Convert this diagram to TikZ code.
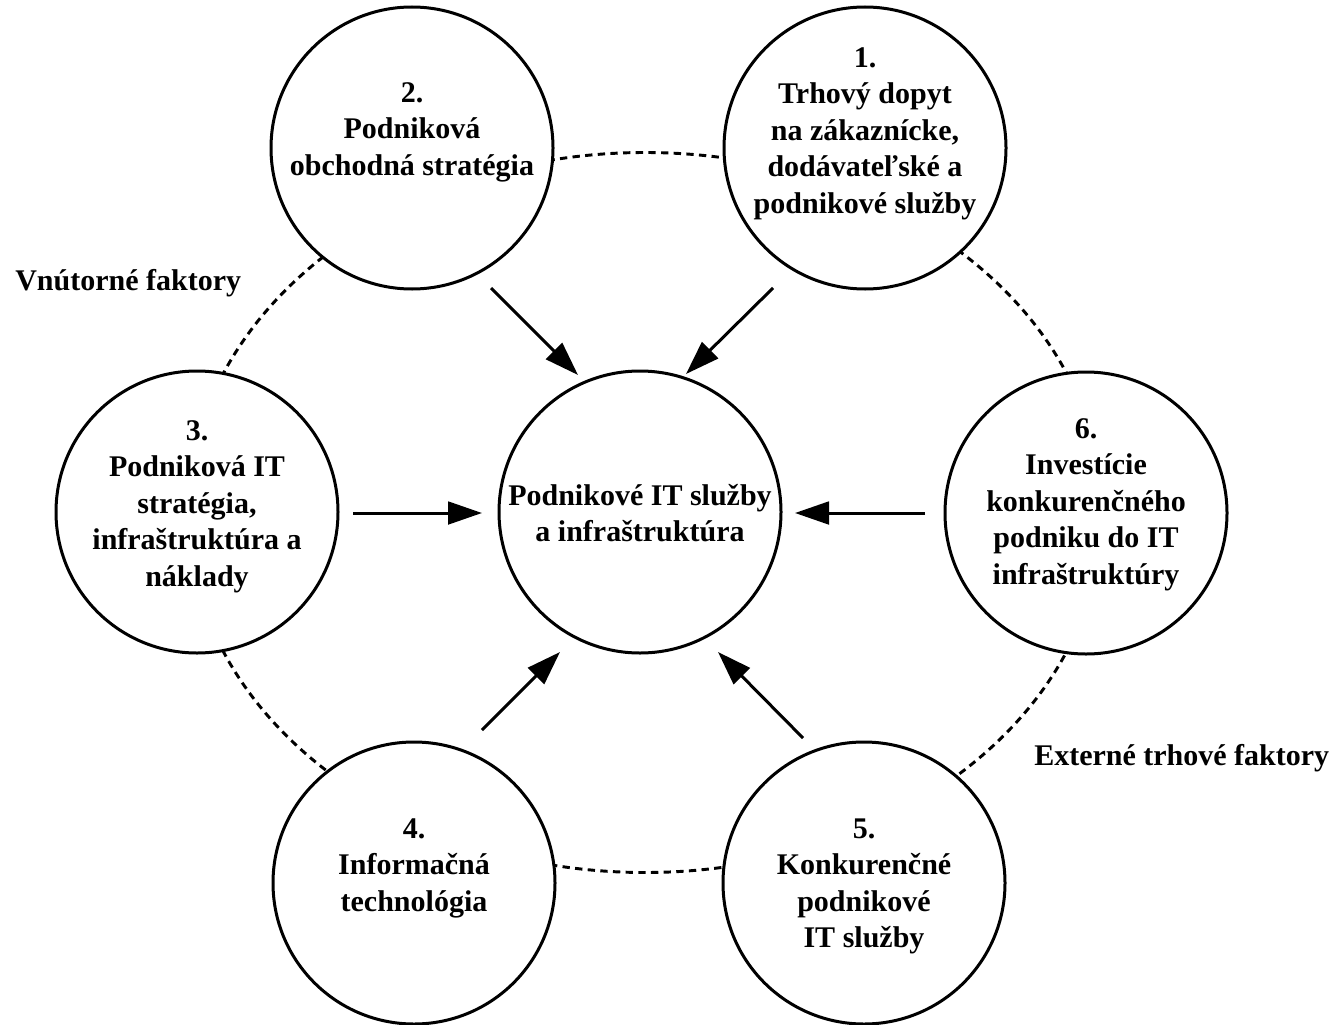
\documentclass[tikz,border=0pt]{standalone}
\usepackage{fontspec}
\setmainfont{Liberation Serif}
\usetikzlibrary{arrows.meta}
\begin{document}
\begin{tikzpicture}[x=0.75pt,y=-0.75pt,
  bubble/.style={circle, draw, line width=2.25pt, fill=white, minimum size=211.5pt, inner sep=0pt},
  txt/.style={font=\bfseries\fontsize{22.5pt}{27.4pt}\selectfont, align=center, inner sep=0pt, anchor=north},
  side/.style={font=\bfseries\fontsize{22.5pt}{27.4pt}\selectfont, inner sep=0pt, anchor=base west},
  ring/.style={line width=2.2pt, dash pattern=on 5.5pt off 4pt},
  flow/.style={line width=2.25pt, -{Triangle[length=25.5pt, width=17pt]}}
]
\useasboundingbox (0,0) rectangle (1334,1024);
% dashed ring behind the outer circles
\coordinate (ringc) at (645,512.5);
\draw[ring] (ringc) ellipse [x radius=342.75pt, y radius=270pt];
% circles
\node[bubble] (c0) at (640,512) {};
\node[bubble] (c1) at (865,148) {};
\node[bubble] (c2) at (412,148) {};
\node[bubble] (c3) at (197,512) {};
\node[bubble] (c4) at (414,883) {};
\node[bubble] (c5) at (864,883) {};
\node[bubble] (c6) at (1086,513) {};
% texts
\node[txt] (t0) at (640,479.4) {\strut Podnikové IT služby\\a infraštruktúra};
\node[txt] (t1) at (865,41.4) {\strut 1.\\Trhový dopyt\\na zákaznícke,\\dodávateľské a\\podnikové služby};
\node[txt] (t2) at (412,76.4) {\strut 2.\\Podniková\\obchodná stratégia};
\node[txt] (t3) at (197,414.4) {\strut 3.\\Podniková IT\\stratégia,\\infraštruktúra a\\náklady};
\node[txt] (t4) at (414,812.4) {\strut 4.\\Informačná\\technológia};
\node[txt] (t5) at (864,812.4) {\strut 5.\\Konkurenčné\\podnikové\\IT služby};
\node[txt] (t6) at (1086,412.4) {\strut 6.\\Investície\\konkurenčného\\podniku do IT\\infraštruktúry};
% side labels
\node[side] (lin) at (15,290) {Vnútorné faktory};
\node[side] (lex) at (1034,765) {Externé trhové faktory};
% arrows
\coordinate (a2s) at (491,288); \coordinate (a2e) at (578,375);
\coordinate (a1s) at (773,288); \coordinate (a1e) at (686,374);
\coordinate (a3s) at (353,513); \coordinate (a3e) at (482,513);
\coordinate (a6s) at (925,513); \coordinate (a6e) at (795,513);
\coordinate (a4s) at (482,730); \coordinate (a4e) at (560,652);
\coordinate (a5s) at (803,738); \coordinate (a5e) at (718,652);
\draw[flow] (a2s) -- (a2e);
\draw[flow] (a1s) -- (a1e);
\draw[flow] (a3s) -- (a3e);
\draw[flow] (a6s) -- (a6e);
\draw[flow] (a4s) -- (a4e);
\draw[flow] (a5s) -- (a5e);
\end{tikzpicture}
\end{document}
